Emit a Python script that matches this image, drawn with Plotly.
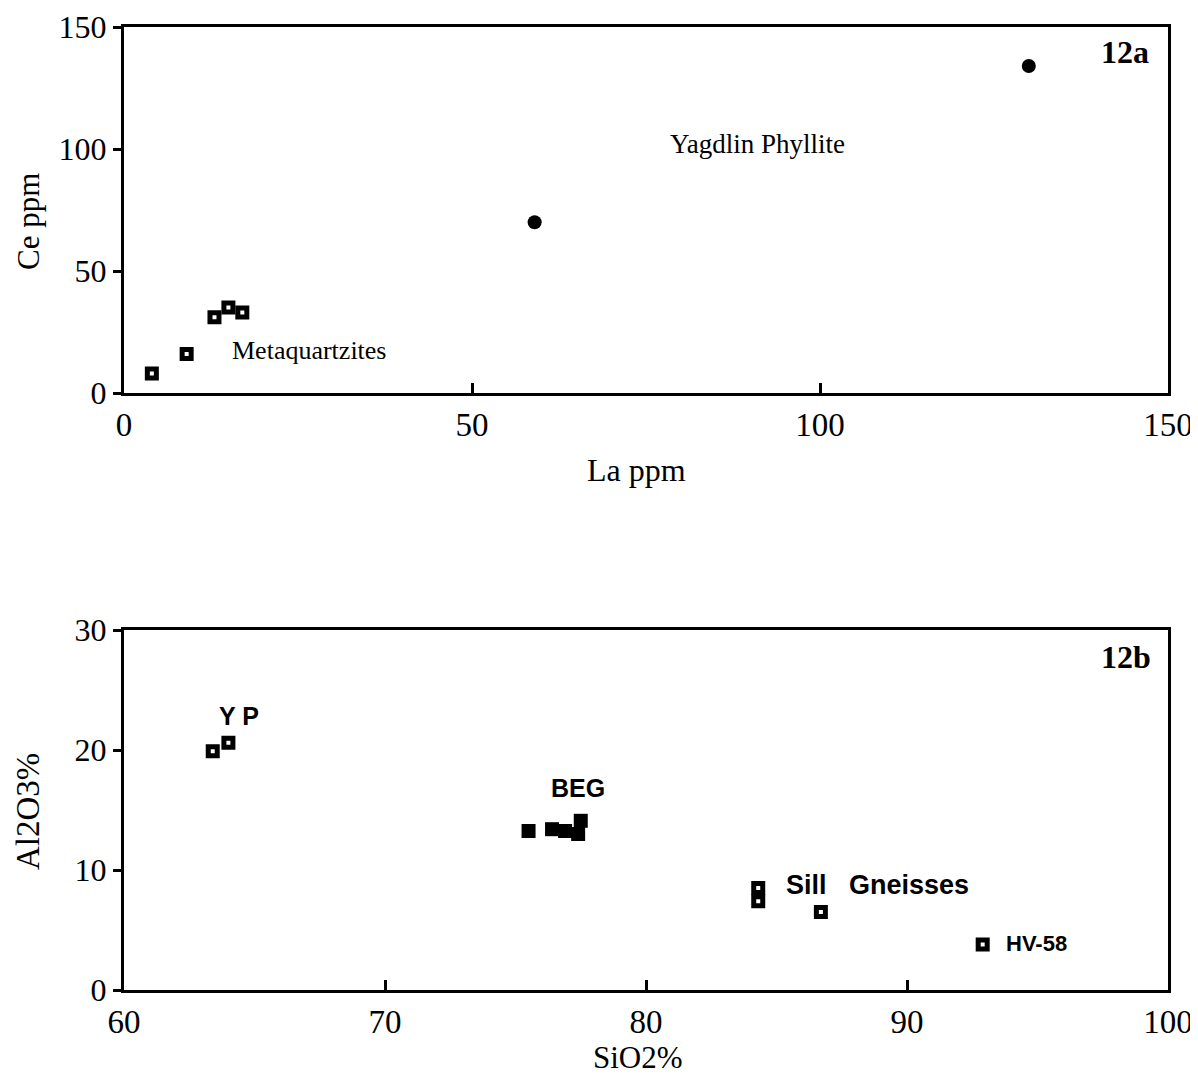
import plotly.graph_objects as go

# ---- Fig 12a data ----
mq_la = [4, 9, 13, 15, 17]
mq_ce = [8, 16, 31, 35, 33]
yp_la = [59, 130]
yp_ce = [70, 134]

# ---- Fig 12b data ----
ypb_si = [63.4, 64.0]
ypb_al = [19.9, 20.6]
beg_si = [75.5, 76.4, 76.9, 77.4, 77.5]
beg_al = [13.25, 13.4, 13.25, 13.0, 14.1]
sill_si = [84.3, 84.3, 86.7]
sill_al = [8.5, 7.4, 6.5]
hv_si = [92.9]
hv_al = [3.8]

serif = "Liberation Serif"
sans = "Liberation Sans"

fig = go.Figure()

open_sq = dict(symbol="square", size=9, color="white", line=dict(color="black", width=5))

fig.add_trace(go.Scatter(x=mq_la, y=mq_ce, mode="markers", marker=open_sq, xaxis="x", yaxis="y"))
fig.add_trace(go.Scatter(x=yp_la, y=yp_ce, mode="markers",
                         marker=dict(symbol="circle", size=14, color="black"), xaxis="x", yaxis="y"))

fig.add_trace(go.Scatter(x=ypb_si, y=ypb_al, mode="markers", marker=open_sq, xaxis="x2", yaxis="y2"))
fig.add_trace(go.Scatter(x=beg_si, y=beg_al, mode="markers",
                         marker=dict(symbol="square", size=14, color="black"), xaxis="x2", yaxis="y2"))
fig.add_trace(go.Scatter(x=sill_si, y=sill_al, mode="markers", marker=open_sq, xaxis="x2", yaxis="y2"))
fig.add_trace(go.Scatter(x=hv_si, y=hv_al, mode="markers", marker=open_sq, xaxis="x2", yaxis="y2"))

# page body has an 8px margin, so figure origin sits at (8, 8) in the window
OFF = 8
W, H = 1198 - OFF, 1085 - OFF
def px(xp):
    return (xp - OFF) / W
def py(yp):
    return 1 - (yp - OFF) / H

xdom = [px(124), px(1168)]

common_x = dict(showline=True, linecolor="black", linewidth=3, mirror=True,
                ticks="inside", ticklen=10, tickwidth=3, tickcolor="black",
                showgrid=False, zeroline=False, automargin=False,
                ticklabeloverflow="allow",
                tickfont=dict(family=serif, size=33, color="black"))
common_y = dict(showline=True, linecolor="black", linewidth=3, mirror=True,
                ticks="outside", ticklen=8, tickwidth=3, tickcolor="black",
                showgrid=False, zeroline=False, automargin=False,
                ticklabeloverflow="allow",
                tickfont=dict(family=serif, size=32, color="black"))

ann = []
def a(text, x, y, xref, yref, size, family, bold=False, xanchor="center", angle=0):
    t = f"<b>{text}</b>" if bold else text
    ann.append(dict(text=t, x=x, y=y, xref=xref, yref=yref, showarrow=False,
                    xanchor=xanchor, yanchor="middle", textangle=angle,
                    font=dict(family=family, size=size, color="black")))

a("Metaquartzites", 15.2, 17.6, "x", "y", 26, serif, xanchor="left")
a("Yagdlin Phyllite", 91, 102, "x", "y", 27, serif)
a("12a", 143.8, 139.6, "x", "y", 32, serif, bold=True)
a("La ppm", px(636), py(470), "paper", "paper", 32, serif)
a("Ce ppm", px(28), py(222), "paper", "paper", 31, serif, angle=-90)

a("Y P", 64.4, 22.8, "x2", "y2", 25, sans, bold=True)
a("BEG", 77.4, 16.8, "x2", "y2", 25, sans, bold=True)
a("Sill&nbsp;&nbsp; Gneisses", 85.3, 8.75, "x2", "y2", 27, sans, bold=True, xanchor="left")
a("HV-58", 93.7, 3.9, "x2", "y2", 22, sans, bold=True, xanchor="left")
a("12b", 98.4, 27.75, "x2", "y2", 32, serif, bold=True)
a("SiO2%", px(638), py(1057), "paper", "paper", 31, serif)
a("Al2O3%", px(28), py(812), "paper", "paper", 33, serif, angle=-90)

fig.update_layout(
    width=W, height=H, margin=dict(l=0, r=0, t=0, b=0),
    paper_bgcolor="white", plot_bgcolor="white", showlegend=False,
    xaxis=dict(common_x, domain=xdom, range=[0, 150], tickvals=[0, 50, 100, 150], anchor="y"),
    yaxis=dict(common_y, domain=[py(393), py(27)], range=[0, 150], tickvals=[0, 50, 100, 150], anchor="x"),
    xaxis2=dict(common_x, domain=xdom, range=[60, 100], tickvals=[60, 70, 80, 90, 100], anchor="y2"),
    yaxis2=dict(common_y, domain=[py(990), py(630)], range=[0, 30], tickvals=[0, 10, 20, 30], anchor="x2"),
    annotations=ann,
)

fig.write_html("out.html")
